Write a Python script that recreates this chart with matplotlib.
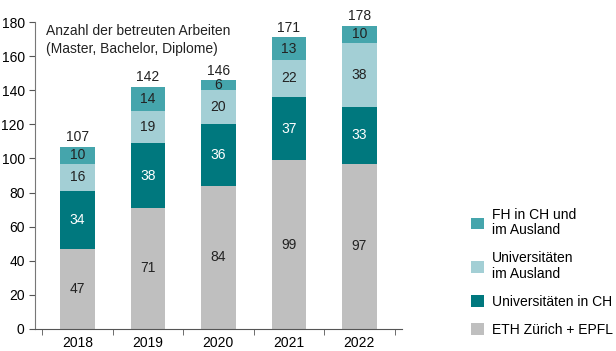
import matplotlib.pyplot as plt
import numpy as np

plt.rcParams['font.family'] = ['Liberation Sans', 'DejaVu Sans']

years = ['2018', '2019', '2020', '2021', '2022']
eth = [47, 71, 84, 99, 97]
uni_ch = [34, 38, 36, 37, 33]
uni_ausland = [16, 19, 20, 22, 38]
fh = [10, 14, 6, 13, 10]

series = [
    ('ETH Zürich + EPFL', eth, '#bfbfbf', '#222222'),
    ('Universitäten in CH', uni_ch, '#00787e', 'white'),
    ('Universitäten\nim Ausland', uni_ausland, '#a3cfd5', '#222222'),
    ('FH in CH und\nim Ausland', fh, '#45a5ac', '#222222'),
]

fig = plt.figure(figsize=(6.16, 3.51), dpi=100)
ax = fig.add_axes([0.057, 0.063, 0.595, 0.874])

x = np.arange(len(years))
bottom = np.zeros(len(years))
handles = []
for name, vals, color, tcol in series:
    bars = ax.bar(x, vals, bottom=bottom, width=0.49, color=color, label=name)
    handles.append(bars)
    for xi, b, v in zip(x, bottom, vals):
        ax.text(xi, b + v / 2, str(v), ha='center', va='center', fontsize=10, color=tcol)
    bottom += np.array(vals)

for xi, t in zip(x, bottom):
    ax.text(xi, t + 1.5, str(int(t)), ha='center', va='bottom', fontsize=10, color='#222222')

ax.set_xlim(-0.6, len(years) - 0.4)
ax.set_ylim(0, 180)
ax.set_yticks(range(0, 181, 20))
ax.set_xticks(x)
ax.set_xticklabels(years)
ax.set_xticks(np.arange(len(years) + 1) - 0.5, minor=True)
ax.tick_params(axis='x', which='major', length=0, labelsize=10, pad=5)
ax.tick_params(axis='x', which='minor', length=4, direction='out', color='#555555')
ax.tick_params(axis='y', length=4, color='#555555', labelsize=10)
for s in ['top', 'right']:
    ax.spines[s].set_visible(False)
ax.spines['left'].set_color('#777777')
ax.spines['bottom'].set_color('#555555')

ax.text(0.03, 0.995, 'Anzahl der betreuten Arbeiten\n(Master, Bachelor, Diplome)',
        transform=ax.transAxes, ha='left', va='top', fontsize=10, color='#222222', linespacing=1.4)

leg = fig.legend(handles[::-1], [s[0] for s in series][::-1], loc='lower left',
                 bbox_to_anchor=(0.745, 0.005), frameon=False, fontsize=10,
                 handlelength=0.9, handleheight=0.9, labelspacing=1.0, handletextpad=0.6)
for t in leg.get_texts():
    t.set_linespacing(1.15)

fig.savefig('out.png', dpi=100)
